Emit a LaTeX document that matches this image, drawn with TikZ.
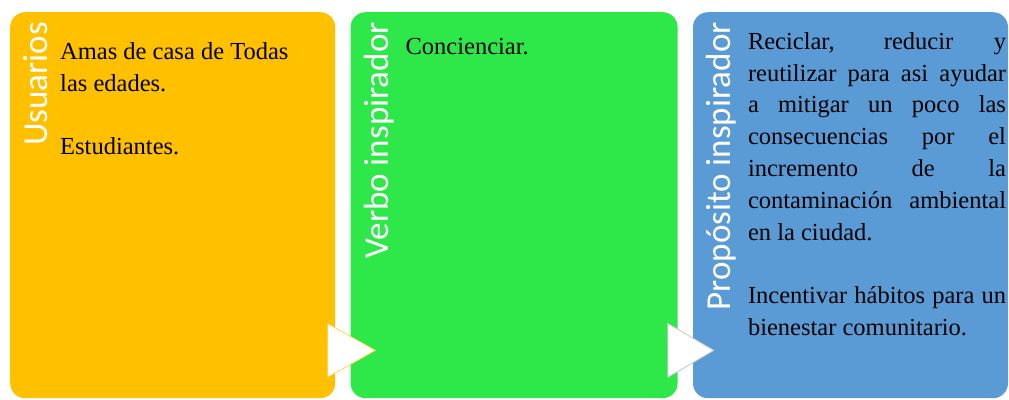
\documentclass[tikz,border=0pt]{standalone}
\usepackage{fontspec}
\setmainfont{Liberation Serif}
\newfontfamily\titlefont{Carlito}
\usetikzlibrary{positioning}

\definecolor{cgold}{HTML}{FFC000}
\definecolor{cgreen}{HTML}{2EE84A}
\definecolor{cblue}{HTML}{5B9BD5}

\tikzset{
  panel/.style={rounded corners=15pt, inner sep=0pt, minimum height=386pt},
  paneltitle/.style={rotate=90, anchor=base east, inner sep=0pt, text=white,
    font=\titlefont\fontsize{35}{40}\selectfont},
  paneltext/.style={anchor=north west, inner sep=0pt, text=black,
    font=\fontsize{24.5}{31.8}\selectfont},
  chevron/.style={fill=white, line width=0.8pt, line join=round}
}

\begin{document}
\begin{tikzpicture}[x=1pt, y=1pt, node distance=15pt]
    \useasboundingbox (0,-399) rectangle (1009,0);

    % three panels
    \node (usu) [panel, fill=cgold, minimum width=325pt, anchor=north west] at (10,-12) {};
    \node (verb) [panel, fill=cgreen, minimum width=327pt, right=of usu] {};
    \node (prop) [panel, fill=cblue, minimum width=315pt, right=of verb] {};

    % rotated titles
    \node (usu_title) [paneltitle] at ([xshift=37pt, yshift=-10pt]usu.north west) {Usuarios};
    \node (verb_title) [paneltitle] at ([xshift=38pt, yshift=-10pt]verb.north west) {Verbo inspirador};
    \node (prop_title) [paneltitle] at ([xshift=38pt, yshift=-10pt]prop.north west) {Propósito inspirador};

    % panel texts
    \node (usu_text) [paneltext, align=left, xshift=50pt, yshift=-30pt] at (usu.north west)
        {Amas de casa de Todas\\ las edades.\\[31.8pt] Estudiantes.};
    \node (verb_text) [paneltext, align=left, xshift=55pt, yshift=-26pt] at (verb.north west)
        {Concienciar.};
    \node (prop_text) [paneltext, text width=258pt, align=justify, xshift=55pt, yshift=-20pt] at (prop.north west)
        {Reciclar, reducir y\linebreak reutilizar para asi ayudar\linebreak a mitigar un poco las\linebreak
         consecuencias por el\linebreak incremento de la\linebreak contaminación ambiental\linebreak
         en la ciudad.\par\vskip31.8pt Incentivar hábitos para un\linebreak bienestar comunitario.};

    % chevrons between panels
    \draw[chevron, draw=cgold!70] ([xshift=-8pt, yshift=75pt]usu.south east)
        -- ([xshift=-8pt, yshift=21pt]usu.south east)
        -- ([xshift=40pt, yshift=48pt]usu.south east) -- cycle;
    \draw[chevron, draw=gray!45] ([xshift=-10pt, yshift=75pt]verb.south east)
        -- ([xshift=-10pt, yshift=21pt]verb.south east)
        -- ([xshift=36pt, yshift=48pt]verb.south east) -- cycle;
\end{tikzpicture}
\end{document}
